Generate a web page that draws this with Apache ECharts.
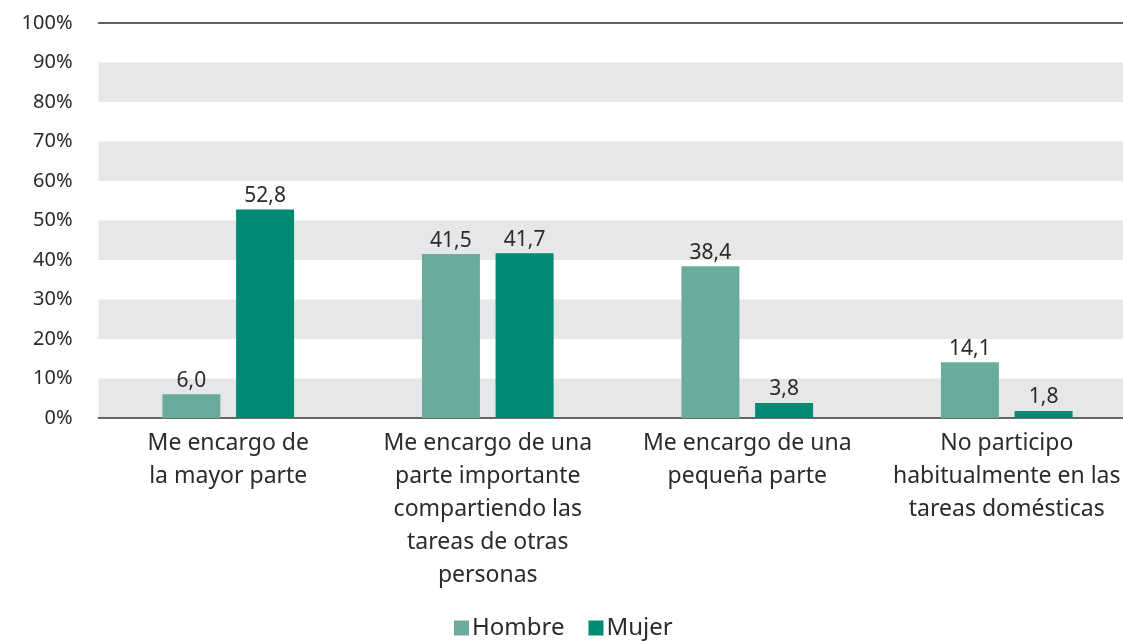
<!DOCTYPE html>
<html>
<head>
<meta charset="utf-8">
<script src="https://cdn.jsdelivr.net/npm/echarts@6/dist/echarts.min.js"></script>
<style>
	html, body { margin: 0; padding: 0; background: #fff; }
	#chart { width: 1123px; height: 641px; }
</style>
</head>
<body>
<div id="chart"></div>
<script>
const categories = [
	'Me encargo de\nla mayor parte',
	'Me encargo de una\nparte importante\ncompartiendo las\ntareas de otras\npersonas',
	'Me encargo de una\npequeña parte',
	'No participo\nhabitualmente en las\ntareas domésticas',
];
const hombre = [6.0, 41.5, 38.4, 14.1];
const mujer = [52.8, 41.7, 3.8, 1.8];
const yTicks = [0, 10, 20, 30, 40, 50, 60, 70, 80, 90, 100];

const font = '"Noto Sans", sans-serif';
const textColor = '#2b2b2b';

const chart = echarts.init(document.getElementById('chart'), null, { renderer: 'canvas' });

const fmt = (v) => v.toFixed(1).replace('.', ',');

// plot runs a bit past the right edge of the canvas, like the original
chart.setOption({
	animation: false,
	textStyle: { fontFamily: font },
	grid: { left: 98.5, width: 1038, top: 23, bottom: 223, outerBoundsMode: 'none', containLabel: false },
	legend: {
		bottom: -4,
		left: 449,
		itemWidth: 15,
		itemHeight: 15,
		itemGap: 24,
		icon: 'rect',
		textStyle: { fontFamily: font, fontSize: 24, color: textColor, padding: [0, 0, 0, -2] },
		data: ['Hombre', 'Mujer'],
	},
	xAxis: [
		{
			type: 'category',
			data: categories,
			axisLine: { lineStyle: { color: '#3a3a3a', width: 1.5 } },
			axisTick: { show: false },
			axisLabel: {
				fontFamily: font,
				fontSize: 23,
				color: textColor,
				lineHeight: 33,
				margin: 9,
				interval: 0,
			},
		},
		{
			type: 'category',
			position: 'top',
			data: categories,
			axisLine: { lineStyle: { color: '#2b2b2b', width: 1.5 } },
			axisTick: { show: false },
			axisLabel: { show: false },
		},
	],
	yAxis: {
		type: 'value',
		min: yTicks[0],
		max: yTicks[yTicks.length - 1],
		interval: 10,
		axisLine: { show: false },
		axisTick: { show: false },
		splitLine: { show: false },
		splitArea: { show: true, areaStyle: { color: ['#e6e7e8', 'rgba(255,255,255,0)'] } },
		axisLabel: {
			fontFamily: font,
			fontSize: 20,
			color: textColor,
			margin: 26,
			formatter: (v) => v + '%',
		},
	},
	series: [
		{
			name: 'Hombre',
			type: 'bar',
			data: hombre,
			barWidth: 58,
			barGap: '27%',
			itemStyle: { color: '#6aab9e' },
			label: {
				show: true,
				position: 'top',
				distance: 3,
				fontFamily: font,
				fontSize: 21,
				color: textColor,
				formatter: (p) => fmt(p.value),
			},
		},
		{
			name: 'Mujer',
			type: 'bar',
			data: mujer,
			barWidth: 58,
			itemStyle: { color: '#008a73' },
			label: {
				show: true,
				position: 'top',
				distance: 3,
				fontFamily: font,
				fontSize: 21,
				color: textColor,
				formatter: (p) => fmt(p.value),
			},
		},
	],
});
</script>
</body>
</html>
